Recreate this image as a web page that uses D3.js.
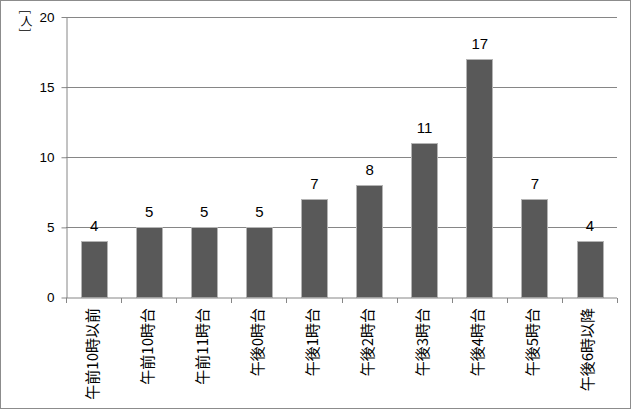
<!DOCTYPE html>
<html><head><meta charset="utf-8">
<script src="https://cdn.jsdelivr.net/npm/d3@7"></script>
<style>body{margin:0;background:#fff}svg{display:block}</style>
</head><body>
<svg id="c" width="631" height="409"></svg>
<script>
const categories = ["午前10時以前","午前10時台","午前11時台","午後0時台","午後1時台","午後2時台","午後3時台","午後4時台","午後5時台","午後6時以降"];
const values = [4,5,5,5,7,8,11,17,7,4];
const yTicks = [0,5,10,15,20];
const unitParts = ["[","人","]"];

const svg = d3.select("#c");
const W = 631, H = 409;
svg.append("rect").attr("x",0.5).attr("y",0.5).attr("width",W-1).attr("height",H-1)
  .attr("fill","#fff").attr("stroke","#8c8c8c").attr("stroke-width",1);

const x = d3.scaleBand().domain(categories).range([66,617]).paddingInner(0.53).paddingOuter(0.265);
const y = d3.scaleLinear().domain([0,20]).range([297.5,17]);

// gridlines
svg.append("g").selectAll("line").data(yTicks.filter(d=>d>0)).join("line")
  .attr("x1",66).attr("x2",617).attr("y1",d=>Math.round(y(d))+0.5).attr("y2",d=>Math.round(y(d))+0.5)
  .attr("stroke","#868686").attr("stroke-width",1);

// bars
svg.append("g").selectAll("rect").data(values).join("rect")
  .attr("x",(d,i)=>Math.round(x(categories[i]))+0.5)
  .attr("width",Math.round(x.bandwidth()))
  .attr("y",d=>Math.round(y(d))+0.5)
  .attr("height",d=>y(0)-Math.round(y(d))-0.5)
  .attr("fill","#595959").attr("stroke","#b4b4b4").attr("stroke-width",1);

// value labels
svg.append("g").selectAll("text").data(values).join("text")
  .attr("x",(d,i)=>x(categories[i])+x.bandwidth()/2+0.5)
  .attr("y",d=>y(d)-10)
  .attr("text-anchor","middle")
  .attr("font-family","Liberation Sans, Arial, sans-serif").attr("font-size",15)
  .attr("fill","#000").text(d=>d);

// y axis
const ya = svg.append("g").attr("transform","translate(66.5,0)")
  .call(d3.axisLeft(y).tickValues(yTicks).tickSize(5).tickPadding(7).tickSizeOuter(0));
ya.select(".domain").attr("stroke","#868686");
ya.selectAll(".tick line").attr("stroke","#868686");
ya.selectAll(".tick text").attr("font-family","Liberation Sans, Arial, sans-serif").attr("font-size",13.5).attr("fill","#000");

// x axis
const xa = svg.append("g").attr("transform","translate(0,"+(y(0)+0.5)+")");
xa.append("line").attr("x1",66).attr("x2",617).attr("stroke","#868686");
const bounds = categories.map((c,i)=>x(c)-x.step()*x.paddingInner()/2).concat([617]);
xa.selectAll("line.t").data(bounds).join("line").attr("class","t")
  .attr("x1",d=>Math.round(d)+0.5).attr("x2",d=>Math.round(d)+0.5).attr("y1",0).attr("y2",5)
  .attr("stroke","#868686");
xa.selectAll("text.c").data(categories).join("text").attr("class","c")
  .attr("transform",d=>"translate("+(x(d)+x.bandwidth()/2+4)+",10) rotate(-90)")
  .attr("text-anchor","end")
  .attr("font-family","Noto Sans CJK JP, sans-serif").attr("font-size",15)
  .attr("fill","#000").text(d=>d);

// unit label (vertical: rotated brackets around 人)
const ul = svg.append("g").attr("font-family","Noto Sans CJK JP, sans-serif").attr("fill","#000");
ul.append("text").attr("transform","translate(26.5,12) rotate(90)").attr("text-anchor","middle")
  .attr("dominant-baseline","central").attr("font-size",12).text(unitParts[0]);
ul.append("text").attr("x",26.5).attr("y",20.5).attr("text-anchor","middle")
  .attr("dominant-baseline","central").attr("font-size",12).text(unitParts[1]);
ul.append("text").attr("transform","translate(26.5,30) rotate(90)").attr("text-anchor","middle")
  .attr("dominant-baseline","central").attr("font-size",12).text(unitParts[2]);
</script>
</body></html>
